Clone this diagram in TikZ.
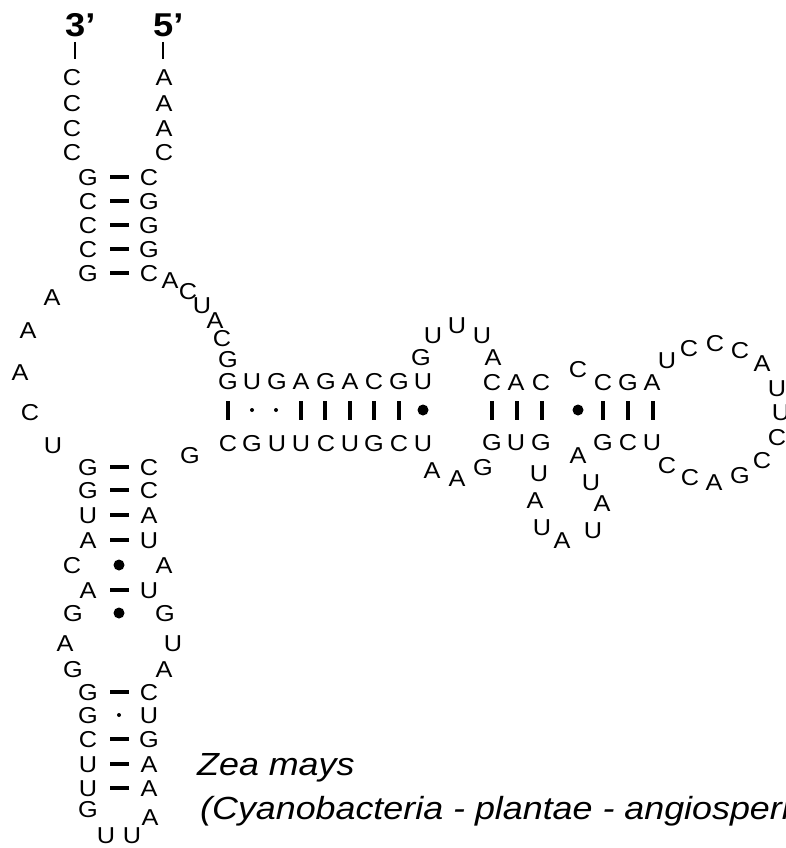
\documentclass[tikz,border=0pt]{standalone}
\usepackage{fontspec}
\setmainfont{Liberation Sans}
\newfontfamily\ntfont[FakeStretch=1.1]{Liberation Sans}
\newfontfamily\ttlfont[FakeStretch=1.12]{Liberation Sans}
\begin{document}
\begin{tikzpicture}[x=1pt,y=-1pt,
  nt/.style={font=\ntfont\fontsize{23}{27}\selectfont, inner sep=0pt, text height=16.5pt, text depth=0pt},
  endlbl/.style={font=\ntfont\bfseries\fontsize{33}{38}\selectfont, inner sep=0pt, anchor=base west},
  title/.style={font=\ttlfont\itshape\fontsize{32}{38}\selectfont, inner sep=0pt, anchor=base west},
  pairdash/.style={line width=3.2pt},
  pairbar/.style={line width=3.2pt},
  endline/.style={line width=2pt},
  bigdot/.style={fill=black},
  smalldot/.style={fill=black}]
\useasboundingbox (0,0) rectangle (785,848);
\clip (0,0) rectangle (785,848);
% 5'/3' labels
\node[endlbl] (l3) at (65,37) {3’};
\node[endlbl] (l5) at (153,37) {5’};
\coordinate (l3a) at (75,42); \coordinate (l3b) at (75,59);
\coordinate (l5a) at (163,42); \coordinate (l5b) at (163,59);
\draw[endline] (l3a) -- (l3b);
\draw[endline] (l5a) -- (l5b);
% nucleotides
\foreach \x/\y/\b [count=\i] in {
  72/77/C, 72/103/C, 72/128/C, 72/152/C,
  164/77/A, 164/103/A, 164/128/A, 164/152/C,
  88/177/G, 88/201/C, 88/225/C, 88/249/C, 88/273/G,
  149/177/C, 149/201/G, 149/225/G, 149/249/G, 149/273/C,
  170/280/A, 188/291/C, 202/305/U, 215/320/A, 222/338/C, 228/359/G,
  228/381/G, 252/381/U, 277/381/G, 301/381/A, 326/381/G, 350/381/A, 374/381/C, 399/381/G, 423/381/U,
  228/443/C, 252/443/G, 277/443/U, 301/443/U, 326/443/C, 350/443/U, 374/443/G, 399/443/C, 423/443/U,
  421/357/G, 433/335/U, 457/325/U, 482/335/U, 493/357/A,
  492/382/C, 516/382/A, 541/382/C,
  492/442/G, 516/442/U, 541/442/G,
  432/470/A, 457/478/A, 483/467/G,
  578/369/C, 578/455/A,
  603/382/C, 628/382/G, 652/382/A,
  603/442/G, 628/442/C, 652/442/U,
  667/360/U, 689/348/C, 715/343/C, 740/350/C, 762/363/A, 777/388/U, 781/412/U, 777/437/C, 762/460/C, 740/475/G, 714/482/A, 690/477/C, 667/465/C,
  539/473/U, 535/500/A, 542/527/U, 562/540/A, 593/530/U, 602/503/A, 591/482/U,
  190/455/G,
  52/297/A, 28/330/A, 20/372/A, 30/412/C, 53/445/U,
  88/467/G, 88/490/G, 88/515/U, 88/540/A, 72/565/C, 88/590/A, 73/613/G, 65/643/A, 73/669/G,
  88/692/G, 88/715/G, 88/739/C, 88/764/U, 88/788/U, 88/809/G, 106/835/U, 132/835/U, 150/817/A,
  149/467/C, 149/490/C, 149/515/A, 149/540/U, 164/565/A, 149/590/U, 165/613/G, 173/643/U, 164/669/A,
  149/692/C, 149/715/U, 149/739/G, 149/764/A, 149/788/A}
  \node[nt] (n\i) at (\x,\y) {\b};
% base-pair dashes
\foreach \y in {177,201,225,249,273,467,490,515,540,590,692,739,764,788}
  \draw[pairdash] (110,\y) -- (129,\y);
% base-pair bars
\foreach \x in {228,301,325,350,374,399,492,517,542,603,628,653}
  \draw[pairbar] (\x,401) -- (\x,420);
% G-U / non-canonical dots
\foreach \x/\y in {119/565, 119/613, 423/410, 578/410}
  \fill[bigdot] (\x,\y) circle (5.5);
\foreach \x/\y in {119/715, 252/410, 276/410}
  \fill[smalldot] (\x,\y) circle (2);
% species
\node[title] (sp1) at (197,775) {Zea mays};
\node[title] (sp2) at (200,819) {(Cyanobacteria - plantae - angiosperms)};
\end{tikzpicture}
\end{document}
